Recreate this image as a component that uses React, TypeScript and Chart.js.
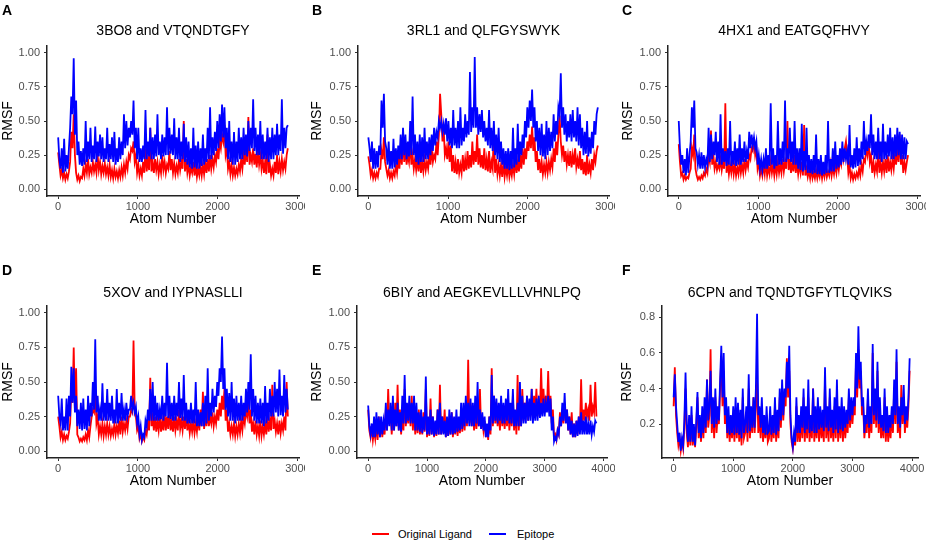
import React, { useEffect, useRef } from "react";
import { Chart, registerables } from "chart.js";

Chart.register(...registerables);

const FONT = "'Liberation Sans', Arial, Helvetica, sans-serif";

// ---------- labels ----------
const panelLetters = ["A", "B", "C", "D", "E", "F"];
const panelTitles = [
  "3BO8 and VTQNDTGFY",
  "3RL1 and QLFGYSWYK",
  "4HX1 and EATGQFHVY",
  "5XOV and IYPNASLLI",
  "6BIY and AEGKEVLLLVHNLPQ",
  "6CPN and TQNDTGFYTLQVIKS",
];
const seriesNames = ["Original Ligand", "Epitope"];
const xAxisTitle = "Atom Number";
const yAxisTitle = "RMSF";

// ---------- ticks ----------
const xTicks3000 = [0, 1000, 2000, 3000];
const xTicks4000 = [0, 1000, 2000, 3000, 4000];
const yTicksUnit = [0, 0.25, 0.5, 0.75, 1.0];
const yTicksF = [0.2, 0.4, 0.6, 0.8];

// atom number of each sampled value = index * step
const atomStepAD = 15;
const atomStepEF = 20;

// ---------- data (RMSF values) ----------
const ligandA = [
  .27,.18,.10,.14,.08,.12,.07,.11,.08,.13,
  .20,.42,.30,.55,.25,.12,.07,.10,.06,.09,
  .08,.15,.10,.18,.12,.22,.11,.16,.12,.20,
  .13,.18,.12,.25,.14,.20,.11,.17,.12,.19,
  .11,.16,.10,.18,.09,.14,.08,.15,.09,.13,
  .08,.14,.09,.16,.10,.18,.12,.20,.15,.25,
  .22,.30,.28,.35,.20,.25,.12,.18,.10,.15,
  .10,.20,.12,.30,.13,.22,.14,.45,.13,.20,
  .12,.22,.14,.20,.11,.18,.12,.25,.14,.20,
  .12,.18,.15,.28,.14,.22,.12,.19,.11,.17,
  .12,.22,.14,.20,.15,.50,.13,.22,.12,.18,
  .10,.16,.12,.20,.10,.18,.09,.15,.10,.17,
  .10,.18,.11,.20,.12,.22,.13,.25,.15,.22,
  .16,.25,.20,.30,.22,.35,.30,.40,.35,.47,
  .25,.30,.15,.20,.11,.18,.10,.16,.10,.15,
  .11,.18,.13,.22,.15,.25,.18,.30,.20,.53,
  .18,.25,.20,.30,.18,.26,.16,.28,.18,.25,
  .15,.22,.12,.20,.11,.40,.12,.18,.10,.15,
  .10,.20,.12,.25,.11,.20,.13,.22,.14,.20,
  .15,.25,.30,
];
const epitopeA = [
  .38,.22,.15,.30,.12,.37,.13,.25,.15,.30,
  .45,.68,.55,.96,.40,.65,.25,.35,.18,.28,
  .17,.30,.18,.50,.20,.35,.22,.45,.20,.32,
  .22,.46,.20,.35,.24,.40,.22,.38,.20,.30,
  .22,.45,.20,.33,.22,.38,.20,.42,.18,.30,
  .20,.38,.22,.35,.25,.55,.30,.50,.32,.45,
  .38,.50,.40,.65,.30,.45,.22,.45,.20,.30,
  .20,.32,.22,.58,.22,.35,.24,.45,.22,.38,
  .22,.40,.24,.55,.25,.35,.22,.40,.24,.38,
  .25,.60,.25,.45,.26,.40,.25,.52,.22,.38,
  .22,.45,.20,.35,.22,.48,.20,.38,.18,.35,
  .16,.30,.15,.45,.16,.32,.15,.35,.15,.30,
  .17,.40,.18,.30,.20,.45,.22,.60,.22,.38,
  .25,.42,.28,.50,.30,.55,.35,.62,.38,.60,
  .30,.45,.22,.50,.20,.35,.18,.42,.18,.35,
  .20,.45,.22,.38,.22,.45,.25,.40,.24,.50,
  .28,.45,.30,.66,.28,.45,.25,.40,.25,.50,
  .22,.40,.22,.35,.22,.45,.20,.38,.22,.45,
  .22,.40,.25,.48,.25,.40,.28,.66,.26,.45,
  .30,.45,.47,
];

const ligandB = [
  .24,.18,.10,.14,.08,.12,.08,.12,.09,.15,
  .15,.28,.22,.38,.20,.15,.10,.14,.08,.12,
  .08,.13,.10,.18,.12,.22,.15,.30,.18,.38,
  .20,.30,.18,.25,.20,.35,.18,.25,.15,.22,
  .14,.22,.13,.25,.12,.20,.13,.22,.14,.20,
  .15,.25,.18,.30,.20,.25,.22,.35,.25,.40,
  .70,.55,.35,.45,.25,.30,.22,.35,.20,.32,
  .13,.25,.12,.20,.11,.22,.12,.18,.12,.25,
  .13,.22,.14,.28,.15,.25,.16,.35,.18,.28,
  .20,.40,.18,.30,.16,.25,.15,.30,.14,.22,
  .13,.28,.12,.20,.15,.45,.12,.22,.11,.18,
  .10,.18,.09,.20,.09,.16,.10,.18,.09,.15,
  .10,.18,.11,.22,.12,.20,.13,.25,.15,.30,
  .18,.30,.22,.35,.28,.40,.30,.46,.28,.38,
  .20,.28,.14,.22,.12,.20,.11,.18,.12,.20,
  .12,.20,.14,.22,.16,.30,.20,.35,.25,.40,
  .54,.35,.25,.32,.20,.28,.18,.25,.17,.28,
  .16,.25,.18,.30,.16,.22,.15,.28,.14,.22,
  .11,.20,.10,.25,.11,.18,.12,.22,.14,.25,
  .20,.28,.32,
];
const epitopeB = [
  .38,.30,.20,.35,.15,.30,.15,.28,.16,.32,
  .25,.65,.45,.70,.35,.30,.18,.35,.15,.28,
  .15,.37,.16,.30,.18,.32,.22,.40,.22,.45,
  .25,.40,.22,.35,.24,.50,.25,.68,.25,.40,
  .20,.35,.18,.40,.20,.38,.20,.45,.22,.35,
  .22,.38,.25,.40,.28,.45,.32,.42,.38,.50,
  .45,.50,.42,.48,.40,.52,.35,.50,.32,.45,
  .30,.58,.32,.45,.30,.50,.30,.60,.32,.45,
  .35,.55,.38,.50,.40,.86,.42,.60,.45,.97,
  .45,.60,.40,.55,.42,.58,.38,.50,.35,.45,
  .32,.58,.30,.45,.28,.50,.25,.40,.22,.45,
  .20,.35,.18,.30,.15,.28,.15,.30,.14,.28,
  .15,.45,.16,.30,.18,.48,.20,.35,.25,.40,
  .30,.50,.38,.60,.45,.65,.50,.73,.45,.60,
  .35,.50,.28,.45,.25,.48,.24,.40,.22,.50,
  .25,.45,.28,.42,.30,.55,.35,.50,.40,.60,
  .55,.85,.45,.60,.40,.55,.35,.50,.38,.55,
  .35,.58,.38,.50,.35,.60,.32,.55,.30,.45,
  .25,.42,.26,.50,.24,.38,.26,.42,.30,.50,
  .40,.55,.60,
];

const ligandC = [
  .33,.20,.10,.12,.07,.10,.07,.09,.08,.12,
  .15,.30,.25,.40,.15,.10,.07,.09,.07,.10,
  .08,.12,.10,.15,.12,.25,.20,.43,.18,.25,
  .15,.20,.14,.18,.15,.22,.14,.20,.15,.63,
  .12,.20,.11,.18,.12,.20,.11,.18,.10,.16,
  .11,.20,.12,.18,.12,.22,.14,.20,.16,.25,
  .22,.30,.28,.38,.25,.30,.15,.20,.10,.15,
  .10,.18,.11,.20,.10,.16,.11,.20,.12,.18,
  .10,.18,.11,.20,.12,.18,.12,.22,.13,.20,
  .15,.50,.14,.22,.12,.20,.13,.25,.12,.20,
  .11,.18,.12,.20,.10,.47,.10,.15,.09,.14,
  .08,.15,.08,.12,.08,.14,.08,.13,.09,.15,
  .08,.14,.09,.15,.09,.13,.10,.18,.10,.16,
  .11,.18,.12,.20,.14,.22,.18,.28,.22,.30,
  .35,.25,.12,.18,.08,.12,.07,.11,.08,.12,
  .09,.15,.10,.18,.13,.22,.20,.30,.25,.35,
  .20,.25,.12,.20,.12,.18,.13,.30,.12,.20,
  .12,.20,.13,.22,.12,.25,.13,.20,.14,.22,
  .15,.25,.18,.30,.20,.40,.18,.25,.12,.20,
  .14,.20,.25,
];
const epitopeC = [
  .50,.30,.18,.25,.12,.22,.10,.30,.12,.25,
  .35,.60,.45,.65,.30,.27,.18,.25,.15,.27,
  .15,.25,.16,.22,.18,.45,.20,.40,.22,.35,
  .25,.42,.20,.35,.18,.55,.18,.30,.20,.28,
  .17,.30,.18,.50,.17,.28,.18,.35,.17,.30,
  .18,.40,.18,.30,.20,.35,.20,.28,.22,.42,
  .30,.40,.32,.38,.30,.35,.18,.25,.15,.22,
  .14,.22,.15,.30,.15,.25,.17,.63,.18,.30,
  .15,.25,.17,.50,.18,.30,.18,.35,.20,.65,
  .20,.30,.22,.45,.20,.35,.18,.50,.18,.30,
  .15,.30,.14,.48,.13,.28,.14,.45,.12,.25,
  .12,.22,.11,.25,.12,.40,.11,.22,.11,.25,
  .10,.20,.11,.25,.12,.50,.12,.22,.13,.30,
  .13,.35,.15,.25,.16,.30,.18,.35,.20,.30,
  .22,.28,.18,.47,.16,.25,.15,.30,.16,.38,
  .17,.30,.18,.35,.22,.50,.25,.35,.28,.40,
  .30,.55,.25,.40,.22,.35,.22,.45,.22,.35,
  .20,.48,.22,.35,.22,.40,.24,.45,.22,.38,
  .22,.40,.24,.45,.25,.42,.22,.40,.22,.38,
  .22,.35,.33,
];

const ligandD = [
  .25,.18,.10,.14,.08,.12,.08,.11,.09,.14,
  .20,.45,.35,.75,.30,.60,.12,.10,.07,.09,
  .07,.10,.08,.12,.08,.15,.10,.18,.25,.30,
  .28,.45,.20,.25,.12,.18,.12,.20,.11,.18,
  .12,.20,.12,.18,.11,.16,.12,.20,.12,.18,
  .13,.22,.12,.25,.14,.20,.15,.22,.16,.25,
  .25,.30,.28,.80,.30,.25,.15,.18,.09,.12,
  .07,.10,.08,.15,.12,.20,.15,.53,.18,.25,
  .15,.25,.14,.22,.15,.25,.14,.22,.15,.28,
  .15,.25,.16,.30,.15,.22,.14,.25,.15,.22,
  .15,.30,.16,.22,.15,.25,.16,.28,.15,.22,
  .13,.20,.14,.22,.13,.20,.14,.25,.15,.30,
  .18,.43,.16,.25,.18,.30,.18,.25,.20,.28,
  .18,.25,.20,.30,.22,.35,.25,.40,.30,.45,
  .22,.30,.14,.20,.12,.18,.12,.20,.11,.18,
  .12,.20,.13,.22,.15,.25,.20,.30,.25,.35,
  .20,.30,.14,.20,.12,.22,.12,.18,.11,.22,
  .11,.18,.12,.20,.12,.25,.14,.22,.15,.48,
  .16,.22,.14,.20,.12,.22,.13,.20,.15,.25,
  .15,.50,.25,
];
const epitopeD = [
  .40,.25,.20,.38,.15,.25,.15,.38,.15,.40,
  .25,.61,.35,.60,.28,.40,.18,.30,.16,.35,
  .15,.38,.16,.30,.15,.40,.18,.35,.25,.50,
  .30,.81,.28,.40,.22,.30,.22,.49,.22,.35,
  .22,.45,.22,.35,.22,.40,.20,.30,.20,.45,
  .20,.35,.22,.42,.22,.30,.22,.35,.25,.30,
  .30,.40,.30,.35,.28,.32,.20,.25,.12,.18,
  .08,.12,.10,.22,.18,.30,.22,.45,.22,.50,
  .22,.40,.22,.35,.22,.30,.23,.40,.22,.35,
  .25,.64,.24,.40,.23,.35,.22,.40,.22,.35,
  .25,.50,.24,.38,.22,.55,.22,.35,.20,.30,
  .20,.35,.20,.30,.20,.50,.18,.30,.18,.28,
  .18,.35,.18,.40,.20,.60,.22,.35,.25,.45,
  .28,.40,.32,.50,.40,.60,.50,.83,.45,.60,
  .30,.45,.25,.42,.22,.50,.22,.38,.20,.40,
  .22,.35,.22,.40,.22,.35,.25,.45,.28,.50,
  .30,.70,.25,.45,.22,.40,.20,.35,.20,.38,
  .20,.35,.18,.47,.20,.35,.22,.45,.25,.40,
  .25,.50,.28,.45,.25,.59,.26,.40,.25,.55,
  .28,.45,.30,
];

const ligandE = [
  .30,.15,.10,.18,.08,.15,.09,.20,.08,.25,
  .10,.22,.10,.18,.12,.30,.15,.45,.20,.30,
  .12,.25,.15,.35,.18,.48,.15,.30,.12,.25,
  .15,.45,.18,.30,.20,.35,.18,.40,.15,.30,
  .12,.25,.13,.30,.12,.22,.12,.28,.14,.45,
  .10,.22,.11,.38,.12,.25,.10,.20,.11,.30,
  .12,.48,.12,.25,.13,.30,.10,.20,.11,.22,
  .12,.28,.10,.20,.12,.25,.11,.22,.13,.28,
  .14,.30,.15,.35,.18,.66,.20,.35,.18,.30,
  .15,.28,.16,.30,.18,.45,.16,.25,.15,.22,
  .10,.18,.08,.25,.12,.60,.18,.40,.20,.35,
  .18,.30,.15,.35,.18,.30,.16,.28,.18,.35,
  .15,.30,.18,.40,.15,.28,.12,.55,.15,.30,
  .18,.45,.22,.35,.25,.40,.22,.35,.25,.45,
  .25,.40,.28,.45,.25,.35,.28,.60,.30,.45,
  .28,.40,.30,.58,.28,.40,.20,.30,.10,.12,
  .08,.15,.12,.28,.18,.30,.20,.35,.22,.30,
  .15,.25,.12,.28,.10,.20,.10,.22,.12,.25,
  .15,.52,.20,.30,.22,.35,.25,.30,.22,.48,
  .25,.32,.28,.50,.25,
];
const epitopeE = [
  .33,.18,.12,.20,.10,.25,.10,.28,.12,.25,
  .10,.25,.12,.22,.15,.35,.15,.30,.18,.35,
  .15,.40,.15,.30,.18,.35,.15,.28,.14,.40,
  .20,.55,.20,.35,.22,.40,.20,.35,.20,.40,
  .15,.35,.15,.28,.14,.30,.13,.25,.15,.54,
  .12,.25,.12,.30,.12,.25,.11,.22,.12,.30,
  .12,.35,.12,.25,.12,.22,.10,.25,.11,.30,
  .12,.28,.12,.25,.13,.30,.14,.25,.15,.35,
  .16,.35,.18,.40,.20,.35,.18,.38,.18,.35,
  .18,.40,.20,.50,.18,.30,.16,.28,.15,.25,
  .10,.20,.10,.25,.15,.55,.20,.40,.22,.38,
  .20,.35,.22,.40,.20,.35,.20,.38,.22,.45,
  .20,.35,.20,.45,.18,.30,.18,.35,.18,.50,
  .18,.40,.20,.35,.20,.40,.22,.38,.22,.45,
  .20,.35,.22,.38,.22,.40,.24,.35,.25,.38,
  .25,.35,.28,.40,.25,.38,.15,.25,.07,.10,
  .08,.15,.12,.25,.18,.35,.22,.42,.20,.30,
  .15,.25,.12,.22,.10,.20,.10,.22,.11,.25,
  .12,.28,.12,.22,.12,.25,.12,.20,.12,.22,
  .12,.18,.14,.22,.20,
];

const ligandF = [
  .30,.52,.25,.15,.08,.12,.05,.10,.06,.18,
  .40,.15,.07,.20,.08,.25,.08,.15,.07,.18,
  .35,.12,.20,.10,.25,.12,.30,.15,.45,.18,
  .25,.62,.15,.30,.12,.35,.15,.25,.20,.40,
  .58,.30,.50,.20,.30,.12,.25,.10,.20,.12,
  .25,.10,.28,.12,.30,.10,.22,.08,.35,.12,
  .15,.25,.10,.40,.12,.25,.15,.35,.15,.30,
  .45,.15,.25,.12,.30,.10,.20,.12,.25,.10,
  .12,.25,.10,.20,.12,.30,.10,.22,.12,.35,
  .18,.40,.22,.35,.30,.57,.35,.50,.20,.10,
  .06,.12,.08,.30,.10,.20,.10,.25,.12,.35,
  .10,.25,.12,.35,.10,.20,.12,.40,.10,.22,
  .12,.30,.10,.25,.12,.20,.10,.45,.12,.25,
  .10,.35,.12,.22,.10,.30,.12,.38,.10,.25,
  .12,.30,.10,.25,.12,.22,.15,.35,.18,.30,
  .20,.30,.25,.55,.35,.62,.40,.50,.25,.30,
  .12,.20,.15,.35,.12,.25,.15,.60,.20,.35,
  .18,.50,.15,.30,.12,.20,.12,.35,.10,.25,
  .10,.20,.12,.25,.15,.40,.20,.55,.15,.25,
  .12,.42,.20,.35,.15,.25,.18,.30,.50,
];
const epitopeF = [
  .35,.48,.30,.20,.10,.15,.05,.12,.08,.22,
  .49,.20,.10,.25,.10,.30,.10,.20,.08,.22,
  .38,.15,.25,.12,.30,.15,.35,.18,.45,.22,
  .30,.50,.20,.35,.18,.40,.20,.30,.22,.45,
  .64,.35,.60,.25,.35,.15,.30,.14,.25,.15,
  .30,.14,.35,.15,.32,.14,.28,.12,.40,.15,
  .20,.30,.15,.48,.16,.30,.18,.35,.18,.40,
  .82,.25,.30,.18,.35,.15,.25,.14,.30,.15,
  .16,.30,.14,.25,.15,.35,.14,.28,.16,.40,
  .22,.45,.25,.40,.35,.55,.40,.64,.25,.12,
  .07,.15,.10,.35,.15,.25,.15,.30,.18,.40,
  .15,.30,.17,.45,.15,.25,.16,.40,.15,.30,
  .15,.35,.17,.30,.18,.28,.16,.52,.18,.30,
  .16,.40,.18,.28,.15,.35,.17,.45,.15,.30,
  .17,.35,.16,.30,.18,.28,.20,.40,.22,.35,
  .25,.35,.30,.60,.40,.75,.45,.55,.30,.35,
  .15,.25,.20,.40,.18,.30,.20,.65,.25,.40,
  .22,.55,.20,.35,.18,.25,.16,.40,.15,.30,
  .15,.25,.18,.30,.20,.45,.25,.62,.20,.30,
  .18,.35,.25,.42,.20,.30,.22,.35,.57,
];

const ligandSeries = [ligandA, ligandB, ligandC, ligandD, ligandE, ligandF];
const epitopeSeries = [epitopeA, epitopeB, epitopeC, epitopeD, epitopeE, epitopeF];
const atomSteps = [atomStepAD, atomStepAD, atomStepAD, atomStepAD, atomStepEF, atomStepEF];
const xTickSets = [xTicks3000, xTicks3000, xTicks3000, xTicks3000, xTicks4000, xTicks4000];
const yTickSets = [yTicksUnit, yTicksUnit, yTicksUnit, yTicksUnit, yTicksUnit, yTicksF];
const yDecimals = [2, 2, 2, 2, 2, 1];

// ---------- layout (pixels & axis ranges) ----------
type Layout = {
  left: number; top: number; width: number; height: number;
  padTop: number; padRight: number; yAxisW: number;
  xMin: number; xMax: number; yMin: number; yMax: number;
};
const layouts: Layout[] = [
  { left: 0, top: 36, width: 305, height: 192, padTop: 10, padRight: 6, yAxisW: 47, xMin: -140, xMax: 3020, yMin: -0.05, yMax: 1.05 },
  { left: 309, top: 36, width: 306, height: 192, padTop: 10, padRight: 6, yAxisW: 49, xMin: -130, xMax: 3020, yMin: -0.05, yMax: 1.05 },
  { left: 620, top: 36, width: 306, height: 192, padTop: 10, padRight: 6, yAxisW: 48, xMin: -135, xMax: 3030, yMin: -0.05, yMax: 1.05 },
  { left: 0, top: 296, width: 305, height: 194, padTop: 10, padRight: 6, yAxisW: 47, xMin: -140, xMax: 3020, yMin: -0.05, yMax: 1.05 },
  { left: 309, top: 296, width: 306, height: 194, padTop: 10, padRight: 8, yAxisW: 48, xMin: -190, xMax: 4060, yMin: -0.05, yMax: 1.05 },
  { left: 619, top: 296, width: 307, height: 194, padTop: 10, padRight: 8, yAxisW: 43, xMin: -195, xMax: 4100, yMin: 0.009, yMax: 0.864 },
];
const X_AXIS_H = 32;
const letterPos = [
  { left: 2, top: 2 }, { left: 312, top: 2 }, { left: 622, top: 2 },
  { left: 2, top: 262 }, { left: 312, top: 262 }, { left: 622, top: 262 },
];
const titleTops = [22, 22, 22, 284, 284, 284];

const RED = "#FF0000";
const BLUE = "#0000FF";

function Panel({ idx }: { idx: number }) {
  const ref = useRef<HTMLCanvasElement | null>(null);
  const L = layouts[idx];
  useEffect(() => {
    if (!ref.current) return;
    const step = atomSteps[idx];
    const toPts = (vals: number[]) => vals.map((v, i) => ({ x: i * step, y: v }));
    const xt = xTickSets[idx];
    const yt = yTickSets[idx];
    const dec = yDecimals[idx];
    const axisCommon = {
      grid: {
        display: true,
        drawOnChartArea: false,
        drawTicks: true,
        tickLength: 3,
        color: "#333333",
        lineWidth: 1,
      },
      border: { display: true, color: "#222222", width: 1.5 },
    };
    const chart = new Chart(ref.current, {
      type: "line",
      data: {
        datasets: [
          {
            label: seriesNames[0],
            data: toPts(ligandSeries[idx]),
            borderColor: RED,
            backgroundColor: RED,
            borderWidth: 1.8,
            pointRadius: 0,
            tension: 0,
            order: 2,
          },
          {
            label: seriesNames[1],
            data: toPts(epitopeSeries[idx]),
            borderColor: BLUE,
            backgroundColor: BLUE,
            borderWidth: 1.8,
            pointRadius: 0,
            tension: 0,
            order: 1,
          },
        ],
      },
      options: {
        animation: false,
        responsive: false,
        maintainAspectRatio: false,
        devicePixelRatio: 1,
        layout: { padding: { left: 0, top: L.padTop, right: L.padRight, bottom: 0 } },
        plugins: {
          legend: { display: false },
          title: { display: false },
          tooltip: { enabled: false },
        },
        scales: {
          x: {
            type: "linear",
            min: L.xMin,
            max: L.xMax,
            afterBuildTicks: (s: any) => {
              s.ticks = xt.map((v) => ({ value: v }));
            },
            afterFit: (s: any) => {
              s.height = X_AXIS_H;
              s.paddingLeft = 0;
              s.paddingRight = 0;
            },
            ticks: {
              autoSkip: false,
              maxRotation: 0,
              minRotation: 0,
              padding: 1,
              color: "#4D4D4D",
              font: { family: FONT, size: 11 },
              callback: (v: any) => String(v),
            },
            ...axisCommon,
            title: {
              display: true,
              text: xAxisTitle,
              color: "#000000",
              font: { family: FONT, size: 14 },
              padding: { top: 0, bottom: 0 },
            },
          },
          y: {
            type: "linear",
            min: L.yMin,
            max: L.yMax,
            afterBuildTicks: (s: any) => {
              s.ticks = yt.map((v) => ({ value: v }));
            },
            afterFit: (s: any) => {
              s.width = L.yAxisW;
              s.paddingTop = 0;
              s.paddingBottom = 0;
            },
            ticks: {
              autoSkip: false,
              padding: 4,
              color: "#4D4D4D",
              font: { family: FONT, size: 11 },
              callback: (v: any) => Number(v).toFixed(dec),
            },
            ...axisCommon,
            title: {
              display: true,
              text: yAxisTitle,
              color: "#000000",
              font: { family: FONT, size: 14 },
              padding: { top: 0, bottom: 0 },
            },
          },
        },
      },
    } as any);
    return () => chart.destroy();
  }, [idx]);

  const chartLeft = L.left + L.yAxisW;
  const chartRight = L.left + L.width - L.padRight;
  return (
    <>
      <canvas
        ref={ref}
        width={L.width}
        height={L.height}
        style={{ position: "absolute", left: L.left, top: L.top, width: L.width, height: L.height }}
      />
      <div
        style={{
          position: "absolute",
          left: chartLeft,
          width: chartRight - chartLeft,
          top: titleTops[idx],
          height: 16,
          lineHeight: "16px",
          fontSize: 14,
          fontFamily: FONT,
          color: "#000",
          textAlign: "center",
          whiteSpace: "nowrap",
        }}
      >
        {panelTitles[idx]}
      </div>
      <div
        style={{
          position: "absolute",
          left: letterPos[idx].left,
          top: letterPos[idx].top,
          height: 16,
          lineHeight: "16px",
          fontSize: 14,
          fontWeight: "bold",
          fontFamily: FONT,
          color: "#000",
        }}
      >
        {panelLetters[idx]}
      </div>
    </>
  );
}

function Legend() {
  const item = (color: string, label: string, lineLeft: number, textLeft: number) => (
    <>
      <div style={{ position: "absolute", left: lineLeft, top: 533, width: 17, height: 2, background: color }} />
      <div
        style={{
          position: "absolute",
          left: textLeft,
          top: 527,
          height: 14,
          lineHeight: "14px",
          fontSize: 11,
          fontFamily: FONT,
          color: "#000",
          whiteSpace: "nowrap",
        }}
      >
        {label}
      </div>
    </>
  );
  return (
    <>
      {item(RED, seriesNames[0], 372, 398)}
      {item(BLUE, seriesNames[1], 489, 517)}
    </>
  );
}

export default function App() {
  return (
    <div
      style={{
        position: "fixed",
        left: 0,
        top: 0,
        width: 926,
        height: 542,
        background: "#fff",
        overflow: "hidden",
      }}
    >
      {[0, 1, 2, 3, 4, 5].map((i) => (
        <Panel key={i} idx={i} />
      ))}
      <Legend />
    </div>
  );
}
